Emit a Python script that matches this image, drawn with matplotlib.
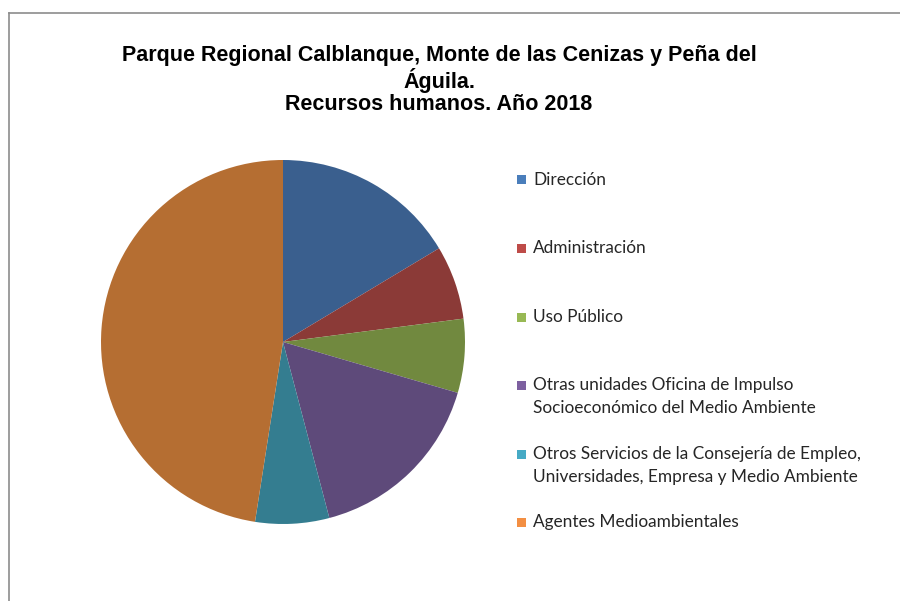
import matplotlib
matplotlib.use("Agg")
import matplotlib.pyplot as plt
from matplotlib.patches import Rectangle
from matplotlib.lines import Line2D

categories = [
    "Dirección",
    "Administración",
    "Uso Público",
    "Otras unidades Oficina de Impulso\nSocioeconómico del Medio Ambiente",
    "Otros Servicios de la Consejería de Empleo,\nUniversidades, Empresa y Medio Ambiente",
    "Agentes Medioambientales",
]
values = [10, 4, 4, 10, 4, 29]
slice_colors = ["#3A5F8E", "#8B3A37", "#71893F", "#5E4A7A", "#347D90", "#B56E32"]
legend_colors = ["#4A7EBB", "#BE4B48", "#98B954", "#7D60A0", "#46AAC5", "#F38F43"]
title = "Parque Regional Calblanque, Monte de las Cenizas y Peña del\nÁguila.\nRecursos humanos. Año 2018"

W, H = 900, 601
fig = plt.figure(figsize=(9, 6.01), dpi=100)
fig.patch.set_facecolor("white")

# chart border (cut by image edges)
fig.add_artist(Line2D([9 / W, 9 / W], [0, 1 - 13 / H], transform=fig.transFigure,
                      color="#8C8C8C", lw=1.2))
fig.add_artist(Line2D([9 / W, 1], [1 - 13 / H, 1 - 13 / H], transform=fig.transFigure,
                      color="#8C8C8C", lw=1.2))

cx, cy, r = 283, 342, 182
ax = fig.add_axes([(cx - r) / W, 1 - (cy + r) / H, 2 * r / W, 2 * r / H])
ax.pie(values, colors=slice_colors, startangle=90, counterclock=False, radius=1,
       wedgeprops=dict(linewidth=0))
ax.set_xlim(-1, 1)
ax.set_ylim(-1, 1)
ax.set_aspect("equal")
ax.axis("off")

fig.text(439 / W, 1 - 80 / H, title, ha="center", va="center", fontsize=15.5,
         fontweight="bold", family="Liberation Sans", linespacing=1.08)

ys = [180, 248, 317, 385, 454, 522]
for lab, col, y in zip(categories, legend_colors, ys):
    fig.add_artist(Rectangle((517 / W, 1 - (y + 4.5) / H), 9 / W, 9 / H,
                             transform=fig.transFigure, facecolor=col, edgecolor="none"))
    nlines = lab.count("\n") + 1
    yc = y + 11.5 * (nlines - 1)
    fig.text(533 / W, 1 - yc / H, lab, ha="left", va="center",
             fontsize=12.4, family="Lato", color="#262626", linespacing=1.5)

fig.savefig("out.png", dpi=100)
